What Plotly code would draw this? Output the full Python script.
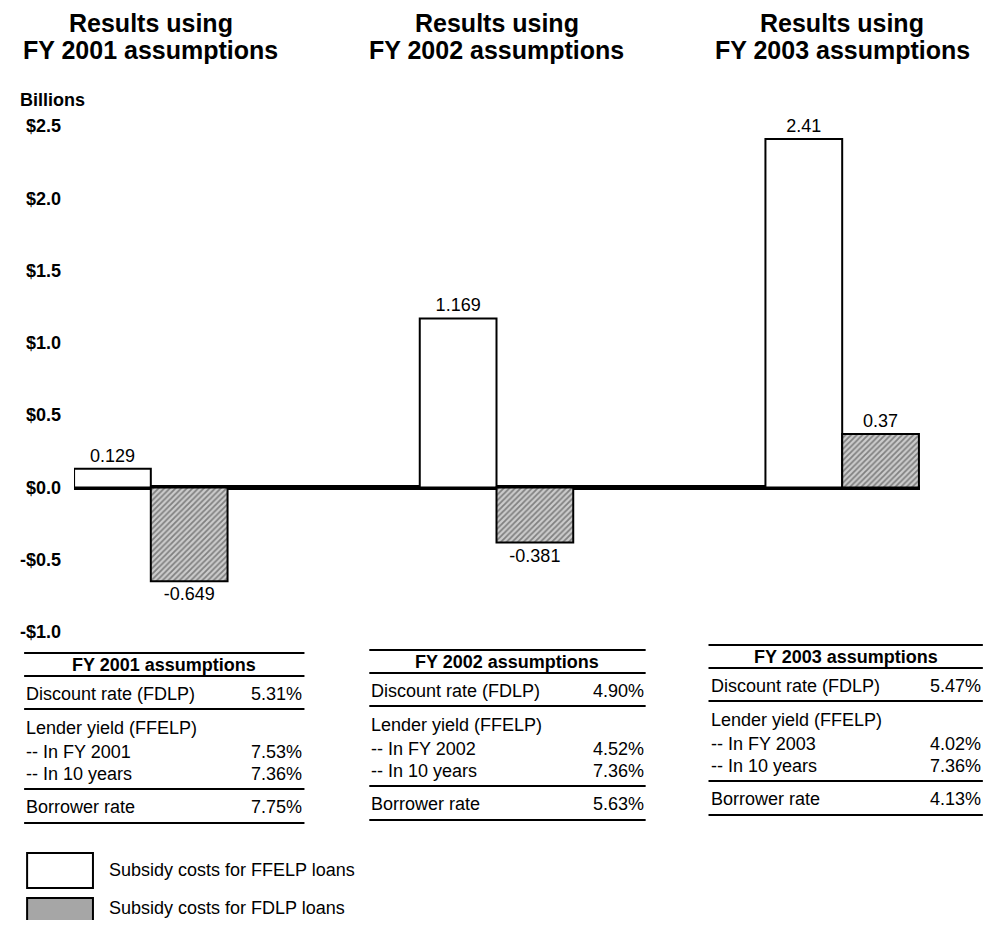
import plotly.graph_objects as go

# ---------------- data ----------------
groups = ["FY 2001", "FY 2002", "FY 2003"]
ffelp_values = [0.129, 1.169, 2.41]
fdlp_values = [-0.649, -0.381, 0.37]
ffelp_labels = ["0.129", "1.169", "2.41"]
fdlp_labels = ["-0.649", "-0.381", "0.37"]

y_tick_values = [2.5, 2.0, 1.5, 1.0, 0.5, 0.0, -0.5, -1.0]
y_tick_labels = ["$2.5", "$2.0", "$1.5", "$1.0", "$0.5", "$0.0", "-$0.5", "-$1.0"]

title_line1 = ["Results using", "Results using", "Results using"]
title_line2 = ["FY 2001 assumptions", "FY 2002 assumptions", "FY 2003 assumptions"]

table_headers = ["FY 2001 assumptions", "FY 2002 assumptions", "FY 2003 assumptions"]
row_labels_2001 = ["Discount rate (FDLP)", "Lender yield (FFELP)", "-- In FY 2001", "-- In 10 years", "Borrower rate"]
row_labels_2002 = ["Discount rate (FDLP)", "Lender yield (FFELP)", "-- In FY 2002", "-- In 10 years", "Borrower rate"]
row_labels_2003 = ["Discount rate (FDLP)", "Lender yield (FFELP)", "-- In FY 2003", "-- In 10 years", "Borrower rate"]
row_values_2001 = ["5.31%", "", "7.53%", "7.36%", "7.75%"]
row_values_2002 = ["4.90%", "", "4.52%", "7.36%", "5.63%"]
row_values_2003 = ["5.47%", "", "4.02%", "7.36%", "4.13%"]

legend_labels = ["Subsidy costs for FFELP loans", "Subsidy costs for FDLP loans"]

# ---------------- layout helpers ----------------
# The page body has an 8px margin, so the figure is sized to fit inside it.
OFF = 8
W, H = 998 - 2 * OFF, 928 - 2 * OFF
ML = 72 - OFF           # plot left edge (page px 72)
MR = W - (920 - OFF)    # plot right edge (page px 920)
MT = 126 - OFF          # y = 2.5 at page px 126
MB = H - (632 - OFF)    # y = -1.0 at page px 632
PW, PH = W - ML - MR, H - MT - MB
FONT = "Liberation Sans, Arial, Helvetica, sans-serif"
PATTERN = dict(shape="/", size=4, solidity=0.45, fgcolor="#333333", bgcolor="#cccccc")


def xp(px):
    """page pixel x -> paper coordinate"""
    return (px - OFF - ML) / PW


def yp(py):
    """page pixel y -> paper coordinate"""
    return (H - MB - (py - OFF)) / PH


fig = go.Figure()
fig.add_trace(go.Bar(
    x=groups, y=ffelp_values, name=legend_labels[0],
    text=ffelp_labels, textposition="outside", cliponaxis=False, constraintext="none",
    textfont=dict(family=FONT, size=18, color="black"),
    marker=dict(color="white", line=dict(color="black", width=2)),
))
fig.add_trace(go.Bar(
    x=groups, y=fdlp_values, name=legend_labels[1],
    text=fdlp_labels, textposition="outside", cliponaxis=False, constraintext="none",
    textfont=dict(family=FONT, size=18, color="black"),
    marker=dict(color="#cccccc", pattern=PATTERN, line=dict(color="black", width=2)),
))

annotations = []
shapes = []

# panel titles
for g, t1, t2 in zip(groups, title_line1, title_line2):
    for txt, ypx in ((t1, 23), (t2, 50)):
        annotations.append(dict(x=g, xref="x", y=yp(ypx), yref="paper", text=txt, showarrow=False,
                                font=dict(family=FONT, size=25, color="black", weight="bold"),
                                xanchor="center", yanchor="middle", borderpad=0))

# unit label
annotations.append(dict(x=xp(16), xref="paper", y=yp(100), yref="paper", text="Billions",
                        showarrow=False, xanchor="left", yanchor="middle",
                        font=dict(family=FONT, size=18, color="black", weight="bold")))

# tables
tables = [
    (22, 303, 653, table_headers[0], row_labels_2001, row_values_2001),
    (368, 645, 650, table_headers[1], row_labels_2002, row_values_2002),
    (708, 983, 645, table_headers[2], row_labels_2003, row_values_2003),
]
row_offsets = [41, 75, 99, 121, 154]
line_offsets = [0, 23, 56, 136, 170]
for left, right, top, header, labels, values in tables:
    for off in line_offsets:
        shapes.append(dict(type="line", xref="paper", yref="paper",
                           x0=xp(left), x1=xp(right), y0=yp(top + off), y1=yp(top + off),
                           line=dict(color="black", width=2)))
    annotations.append(dict(x=xp((left + right) / 2), xref="paper", y=yp(top + 12), yref="paper",
                            text=header, showarrow=False, xanchor="center", yanchor="middle",
                            font=dict(family=FONT, size=18, color="black", weight="bold")))
    for lab, val, off in zip(labels, values, row_offsets):
        annotations.append(dict(x=xp(left), xref="paper", y=yp(top + off), yref="paper",
                                text=lab, showarrow=False, xanchor="left", yanchor="middle",
                                font=dict(family=FONT, size=18, color="black")))
        if val:
            annotations.append(dict(x=xp(right), xref="paper", y=yp(top + off), yref="paper",
                                    text=val, showarrow=False, xanchor="right", yanchor="middle",
                                    font=dict(family=FONT, size=18, color="black")))

# legend (drawn manually to match the large swatches)
legend_rows = [(853, 888, "white", 870), (898, 933, "#a6a6a6", 908)]
for (y0, y1, fill, ty), lab in zip(legend_rows, legend_labels):
    shapes.append(dict(type="rect", xref="paper", yref="paper",
                       x0=xp(25), x1=xp(91), y0=yp(y1), y1=yp(y0),
                       fillcolor=fill, line=dict(color="black", width=2)))
    annotations.append(dict(x=xp(106), xref="paper", y=yp(ty), yref="paper",
                            text=lab, showarrow=False, xanchor="left", yanchor="middle",
                            font=dict(family=FONT, size=18, color="black"), borderpad=0))

fig.update_layout(
    width=W, height=H,
    margin=dict(l=ML, r=MR, t=MT, b=MB),
    paper_bgcolor="white", plot_bgcolor="white",
    barmode="group", bargap=0.556, bargroupgap=0,
    showlegend=False,
    font=dict(family=FONT, color="black"),
    xaxis=dict(type="category", range=[-0.2222, 2.2251], showticklabels=False,
               showgrid=False, zeroline=False, showline=False, ticks=""),
    yaxis=dict(range=[-1.0, 2.5], tickvals=y_tick_values, ticktext=y_tick_labels,
               showgrid=False, showline=False, ticks="",
               zeroline=True, zerolinecolor="black", zerolinewidth=5,
               ticklabelstandoff=12,
               tickfont=dict(family=FONT, size=18, color="black", weight="bold")),
    annotations=annotations,
    shapes=shapes,
)

fig.write_html("out.html")
